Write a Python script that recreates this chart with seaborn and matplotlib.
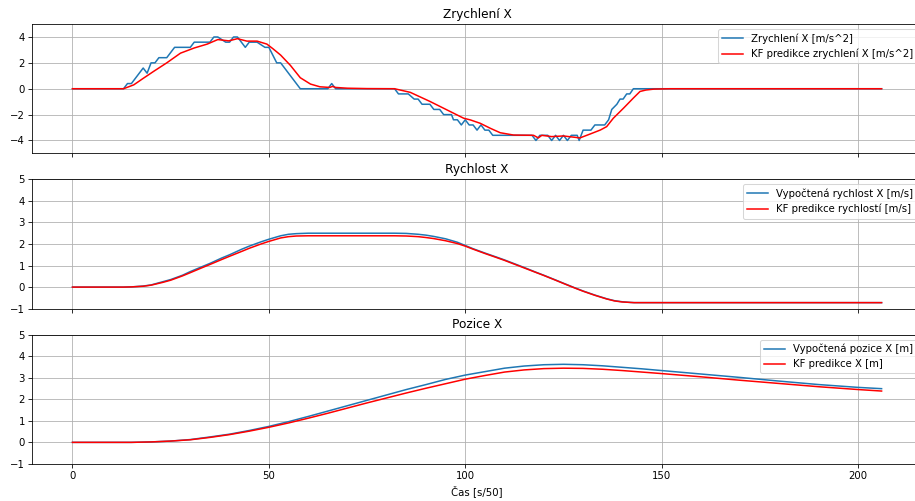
import matplotlib
matplotlib.use("Agg")
import matplotlib.pyplot as plt
from matplotlib.ticker import MultipleLocator
import seaborn as sns

# --- zrychleni (measured, stepwise) ---
acc_t = [0, 13, 14, 15, 18, 19, 20, 21, 22, 24, 26, 30, 31, 35, 36, 37, 39, 40, 41, 42,
         44, 45, 47, 49, 50, 52, 53, 58, 65, 66, 67, 82, 83, 85.5, 87, 88, 89, 91, 92, 93.5,
         94.5, 96.5, 97, 98, 99, 100, 101, 102, 103, 104, 105, 106, 107, 117, 118, 119, 121, 122, 123, 124,
         125, 126, 127, 128.5, 129, 130, 132, 133, 135.5, 136.5, 137.3, 138.6, 139.4, 140.2, 141.1, 141.9, 142.8, 206]
acc_meas = [0, 0, 0.4, 0.4, 1.6, 1.2, 2.0, 2.0, 2.4, 2.4, 3.2, 3.2, 3.6, 3.6, 4.0, 4.0, 3.6, 3.6, 4.0, 4.0,
            3.2, 3.6, 3.6, 3.2, 3.2, 2.0, 2.0, 0, 0, 0.4, 0, 0, -0.4, -0.4, -0.8, -0.8, -1.2, -1.2, -1.6, -1.6,
            -2.0, -2.0, -2.4, -2.4, -2.8, -2.4, -2.8, -2.8, -3.2, -2.8, -3.2, -3.2, -3.6, -3.6, -4.0, -3.6, -3.6, -4.0, -3.6, -4.0,
            -3.6, -4.0, -3.6, -3.6, -4.0, -3.2, -3.2, -2.8, -2.8, -2.4, -1.6, -1.2, -0.8, -0.8, -0.4, -0.4, 0, 0]

# --- zrychleni (KF) ---
acc_kf_t = [0, 13, 15.6, 18, 20.7, 24, 27.5, 31, 34.3, 37, 39.8, 42, 44.4, 47, 49.5, 51, 53, 55.5, 58, 60.6,
            63, 65.5, 66.2, 67, 70, 75, 82, 86, 91, 95.3, 99.6, 101.3, 103.8, 106.4, 108.9, 112.3, 117.4, 118.6, 119.5, 122,
            125, 129.2, 131.8, 134.4, 136, 137.7, 140.3, 142.8, 144.5, 146, 148, 152, 206]
acc_kf = [0, 0, 0.3, 0.8, 1.35, 2.0, 2.75, 3.15, 3.45, 3.8, 3.7, 3.87, 3.68, 3.68, 3.45, 3.1, 2.6, 1.8, 0.85, 0.36,
          0.15, 0.1, 0.18, 0.1, 0.04, 0.01, 0, -0.28, -0.98, -1.63, -2.28, -2.41, -2.67, -3.06, -3.4, -3.58, -3.6, -3.8, -3.6, -3.7,
          -3.65, -3.8, -3.5, -3.19, -2.93, -2.28, -1.5, -0.72, -0.21, -0.1, -0.03, 0, 0]

# --- rychlost ---
vel_t = [0, 13, 15, 18, 20, 23, 25, 28, 30, 33, 35, 38, 40, 43, 45, 48, 50, 53, 55, 57,
         60, 82, 85, 88, 90, 92, 95, 98, 100, 102, 105, 108, 110, 113, 115, 118, 120, 123, 125, 128,
         130, 133, 136, 138, 140, 142, 143, 206]
vel_calc = [0, 0, 0.01, 0.05, 0.1, 0.25, 0.35, 0.55, 0.72, 0.95, 1.1, 1.35, 1.5, 1.75, 1.9, 2.1, 2.22, 2.38, 2.45, 2.48,
            2.5, 2.5, 2.49, 2.45, 2.41, 2.35, 2.24, 2.08, 1.93, 1.78, 1.58, 1.39, 1.26, 1.05, 0.91, 0.69, 0.55, 0.33, 0.18, -0.04,
            -0.18, -0.37, -0.54, -0.63, -0.68, -0.71, -0.72, -0.72]
vel_kf = [0, 0, 0.01, 0.04, 0.09, 0.22, 0.32, 0.52, 0.67, 0.9, 1.05, 1.28, 1.43, 1.65, 1.8, 2.0, 2.12, 2.28, 2.34, 2.37,
          2.38, 2.38, 2.37, 2.34, 2.3, 2.25, 2.15, 2.02, 1.9, 1.76, 1.56, 1.37, 1.24, 1.03, 0.89, 0.68, 0.54, 0.32, 0.17, -0.05,
          -0.19, -0.38, -0.55, -0.64, -0.69, -0.71, -0.72, -0.72]

# --- pozice ---
pos_t = [0, 15, 20, 25, 30, 35, 40, 45, 50, 55, 60, 65, 70, 75, 80, 85, 90, 95, 100, 105,
         110, 115, 120, 125, 130, 135, 140, 145, 150, 160, 170, 180, 190, 200, 206]
pos_calc = [0, 0, 0.02, 0.06, 0.13, 0.25, 0.38, 0.55, 0.74, 0.96, 1.2, 1.45, 1.7, 1.95, 2.2, 2.45, 2.68, 2.92, 3.12, 3.28,
            3.44, 3.54, 3.6, 3.62, 3.6, 3.55, 3.48, 3.41, 3.33, 3.17, 3.01, 2.84, 2.68, 2.55, 2.49]
pos_kf = [0, 0, 0.02, 0.06, 0.12, 0.23, 0.36, 0.52, 0.7, 0.9, 1.12, 1.35, 1.59, 1.83, 2.06, 2.29, 2.51, 2.72, 2.93, 3.1,
          3.26, 3.36, 3.42, 3.44, 3.43, 3.39, 3.33, 3.26, 3.19, 3.04, 2.88, 2.73, 2.58, 2.45, 2.38]

DPI = 73
fig, axes = plt.subplots(3, 1, figsize=(915 / DPI, 501 / DPI), dpi=DPI, sharex=True)

panels = [
    ("Zrychlení X", acc_t, acc_meas, acc_kf_t, acc_kf,
     "Zrychlení X [m/s^2]", "KF predikce zrychlení X [m/s^2]", (-5, 5), 2),
    ("Rychlost X", vel_t, vel_calc, vel_t, vel_kf,
     "Vypočtená rychlost X [m/s]", "KF predikce rychlostí [m/s]", (-1, 5), 1),
    ("Pozice X", pos_t, pos_calc, pos_t, pos_kf,
     "Vypočtená pozice X [m]", "KF predikce X [m]", (-1, 5), 1),
]

for ax, (title, t1, y1, t2, y2, lab1, lab2, ylim, step) in zip(axes, panels):
    sns.lineplot(x=t1, y=y1, ax=ax, color="#1f77b4", label=lab1, estimator=None, sort=False, linewidth=1.5)
    sns.lineplot(x=t2, y=y2, ax=ax, color="red", label=lab2, estimator=None, sort=False, linewidth=1.5)
    ax.set_title(title)
    ax.set_ylim(*ylim)
    ax.yaxis.set_major_locator(MultipleLocator(step))
    ax.grid(True)
    ax.legend(loc="upper right")

axes[2].set_xlim(-10.3, 216.3)
axes[2].set_xlabel("Čas [s/50]")

plt.subplots_adjust(left=0.035, right=1.0077, top=0.952, bottom=0.074, hspace=0.2)
plt.savefig("out.png", dpi=DPI)
